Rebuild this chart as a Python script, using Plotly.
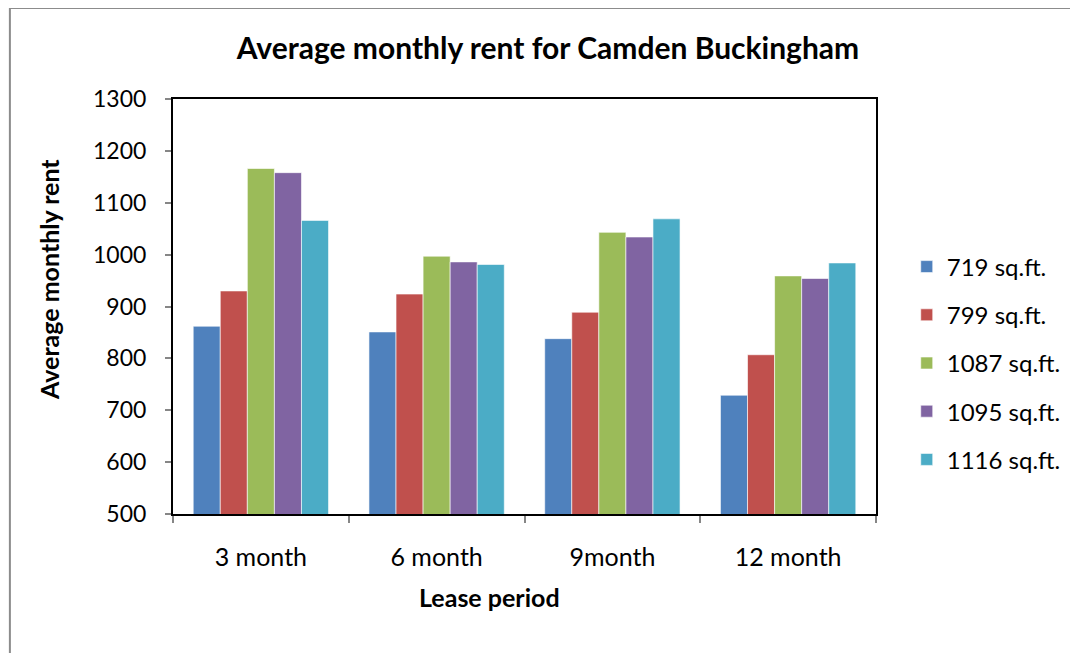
import plotly.graph_objects as go

categories = ["3 month", "6 month", "9month", "12 month"]
series_names = ["719 sq.ft.", "799 sq.ft.", "1087 sq.ft.", "1095 sq.ft.", "1116 sq.ft."]
rent_719 = [862, 851, 838, 729]
rent_799 = [930, 924, 889, 807]
rent_1087 = [1166, 997, 1043, 959]
rent_1095 = [1158, 986, 1034, 954]
rent_1116 = [1066, 981, 1069, 984]
y_ticks = [500, 600, 700, 800, 900, 1000, 1100, 1200, 1300]

series_values = [rent_719, rent_799, rent_1087, rent_1095, rent_1116]
colors = ["#4F81BD", "#C0504D", "#9BBB59", "#8064A2", "#4BACC6"]
FONT = "Lato"

fig = go.Figure()
for name, vals, col in zip(series_names, series_values, colors):
    fig.add_trace(go.Bar(
        x=categories, y=vals, name=name, legendgroup=name,
        marker=dict(color=col, line=dict(color="rgba(255,255,255,0.6)", width=1)),
    ))

# page has an 8px body margin; figure coordinates are offset by it
OFF = 8
W, H = 1078 - OFF, 653 - OFF
L, T = 173 - OFF, 99 - OFF
pw, ph = 709, 415
R, B = W - L - pw, H - T - ph


def px_x(page_x):
    return (page_x - OFF - L) / pw


def px_y(page_y):
    return (T + ph - (page_y - OFF)) / ph


fig.update_layout(
    width=W, height=H,
    margin=dict(l=L, r=R, t=T, b=B),
    paper_bgcolor="white", plot_bgcolor="white",
    barmode="group", bargap=0.23, bargroupgap=0,
    font=dict(family=FONT, color="black", size=24),
    title=dict(text="<b>Average monthly rent for Camden Buckingham</b>",
               x=(548 - OFF) / W, xref="container", xanchor="center",
               y=1 - (48 - OFF) / H, yref="container", yanchor="middle",
               font=dict(size=30, family=FONT, color="black")),
    legend=dict(x=px_x(913), xanchor="left",
                y=px_y(363), yanchor="middle",
                font=dict(size=24, family=FONT), tracegroupgap=14,
                bgcolor="rgba(0,0,0,0)", itemwidth=30),
    showlegend=True,
)
fig.update_xaxes(
    showline=True, linecolor="black", linewidth=2, mirror=True,
    ticks="outside", tickson="boundaries", ticklen=7, tickcolor="#868686", tickwidth=2,
    tickfont=dict(size=25, family=FONT), ticklabelstandoff=20,
    showgrid=False,
)
fig.update_yaxes(
    range=[500, 1300], tickvals=y_ticks, showgrid=False, zeroline=False,
    showline=True, linecolor="black", linewidth=2, mirror=True,
    ticks="outside", ticklen=6, tickcolor="#868686", tickwidth=2,
    tickfont=dict(size=23, family=FONT), ticklabelstandoff=14,
)
# axis titles
fig.add_annotation(text="<b>Lease period</b>", xref="paper", yref="paper",
                   x=px_x(492), y=px_y(597), xanchor="center", yanchor="middle",
                   showarrow=False, font=dict(size=25, family=FONT, color="black"))
fig.add_annotation(text="<b>Average monthly rent</b>", xref="paper", yref="paper",
                   x=px_x(48), y=px_y(280), xanchor="center", yanchor="middle",
                   textangle=-90, showarrow=False,
                   font=dict(size=25, family=FONT, color="black"))
# outer chart frame (left and top edges visible)
fig.add_shape(type="rect", xref="paper", yref="paper",
              x0=(0.5 - L) / pw, x1=(W + 20 - L) / pw,
              y0=(T + ph - (H + 20)) / ph, y1=(T + ph + 0) / ph,
              line=dict(color="#8C8C8C", width=2), fillcolor="rgba(0,0,0,0)", layer="below")

fig.write_html("out.html")
